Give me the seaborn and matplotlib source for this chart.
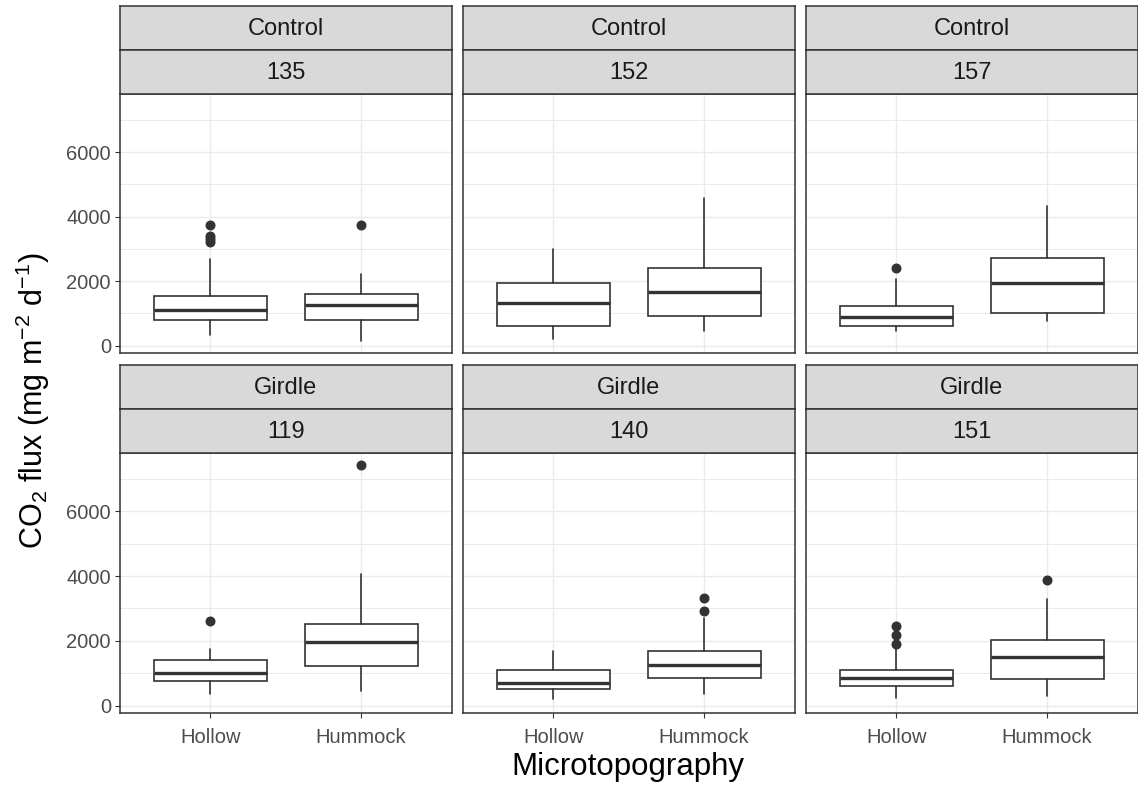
import matplotlib
matplotlib.use("Agg")
import matplotlib.pyplot as plt
from matplotlib.ticker import FixedLocator
import pandas as pd
import seaborn as sns

# Facet labels: treatment (upper strip) and plot number (lower strip)
treatments = ["Control", "Control", "Control", "Girdle", "Girdle", "Girdle"]
plot_ids = ["135", "152", "157", "119", "140", "151"]
microtopography = ["Hollow", "Hummock"]

# Box summaries of CO2 flux (mg m-2 d-1) per plot, Hollow
hollow_low = [342, 197, 445, 342, 197, 238]
hollow_q1 = [808, 611, 611, 767, 508, 611]
hollow_med = [1098, 1316, 901, 995, 684, 839]
hollow_q3 = [1544, 1948, 1233, 1419, 1109, 1109]
hollow_high = [2673, 2994, 2062, 1751, 1689, 1780]
hollow_out = [[3210, 3300, 3400, 3750], [], [2414], [2611], [], [1908, 2165, 2459]]

# Box summaries per plot, Hummock
hummock_low = [135, 445, 756, 445, 342, 280]
hummock_q1 = [808, 922, 1026, 1222, 860, 808]
hummock_med = [1264, 1668, 1937, 1968, 1243, 1502]
hummock_q3 = [1606, 2414, 2725, 2518, 1678, 2041]
hummock_high = [2227, 4590, 4320, 4051, 2714, 3284]
hummock_out = [[3750], [], [], [7439], [2911, 3336], [3895]]

y_ticks = [0, 2000, 4000, 6000]
y_minor = [1000, 3000, 5000, 7000]

rows = []
for i, (trt, pid) in enumerate(zip(treatments, plot_ids)):
    series = {
        "Hollow": (hollow_low, hollow_q1, hollow_med, hollow_q3, hollow_high, hollow_out),
        "Hummock": (hummock_low, hummock_q1, hummock_med, hummock_q3, hummock_high, hummock_out),
    }
    for m in microtopography:
        lo, q1, med, q3, hi, out = series[m]
        rows.append(dict(treatment=trt, plot=pid, panel=f"{trt} {pid}", micro=m,
                         low=lo[i], q1=q1[i], med=med[i], q3=q3[i], high=hi[i],
                         out=out[i]))
df = pd.DataFrame(rows)
panels = [f"{t} {p}" for t, p in zip(treatments, plot_ids)]

sns.set_theme(style="white")
plt.rcParams["font.family"] = ["Liberation Sans", "DejaVu Sans"]
plt.rcParams["mathtext.fontset"] = "custom"
plt.rcParams["mathtext.rm"] = "Liberation Sans"
plt.rcParams["mathtext.it"] = "Liberation Sans:italic"
plt.rcParams["mathtext.bf"] = "Liberation Sans:bold"

DARK = "#333333"
GRID = "#EBEBEB"
TICKTXT = "#4D4D4D"


def draw_boxes(data, **kws):
    ax = plt.gca()
    stats = []
    for _, r in data.iterrows():
        stats.append(dict(med=r["med"], q1=r["q1"], q3=r["q3"],
                          whislo=r["low"], whishi=r["high"],
                          fliers=list(r["out"]), label=r["micro"]))
    ax.bxp(stats, positions=list(range(len(stats))), widths=0.75,
           showcaps=False, patch_artist=True,
           boxprops=dict(facecolor="white", edgecolor=DARK, linewidth=1.2),
           medianprops=dict(color=DARK, linewidth=2.4),
           whiskerprops=dict(color=DARK, linewidth=1.2),
           flierprops=dict(marker="o", markerfacecolor=DARK,
                           markeredgecolor=DARK, markersize=6.2))


g = sns.FacetGrid(df, col="panel", col_order=panels, col_wrap=3,
                  sharex=True, sharey=True, height=3, aspect=1.2)
g.map_dataframe(draw_boxes)
g.set_titles("")
g.set_axis_labels("", "")

fig = g.figure
fig.set_size_inches(11.38, 7.88)
W, H = 1138.0, 788.0

all_vals = df[["low", "high"]].values.ravel().tolist() + \
    [v for lst in df["out"] for v in lst]
ymin, ymax = min(all_vals), max(all_vals)
pad = 0.05 * (ymax - ymin)

col_left = [120, 463, 806]
panel_w = 331.5
row_top = [94, 453]
row_bottom = [353, 713]
strip_h = 44

for k, ax in enumerate(g.axes.flat):
    r, c = divmod(k, 3)
    ax.set_position([col_left[c] / W, 1 - row_bottom[r] / H,
                     panel_w / W, (row_bottom[r] - row_top[r]) / H])
    ax.set_xlim(-0.6, 1.6)
    ax.set_ylim(ymin - pad, ymax + pad)
    ax.set_xticks([0, 1])
    ax.set_xticklabels(microtopography)
    ax.set_yticks(y_ticks)
    ax.set_yticklabels([str(v) for v in y_ticks])
    ax.yaxis.set_minor_locator(FixedLocator(y_minor))
    ax.set_axisbelow(True)
    ax.grid(True, which="major", axis="both", color=GRID, linewidth=1.0)
    ax.grid(True, which="minor", axis="y", color=GRID, linewidth=0.7)
    ax.set_facecolor("white")
    for sp in ax.spines.values():
        sp.set_visible(True)
        sp.set_color(DARK)
        sp.set_linewidth(1.1)
    ax.tick_params(axis="both", which="major", length=3.5, width=0.8,
                   color=DARK, labelcolor=TICKTXT, labelsize=14.5)
    ax.tick_params(axis="x", pad=7, bottom=(r == 1), labelbottom=(r == 1))
    ax.tick_params(axis="y", pad=3, left=(c == 0), labelleft=(c == 0))
    ax.tick_params(axis="y", which="minor", length=0)
    ax.set_xlabel("")
    ax.set_ylabel("")

    # two-level strip above each panel
    for level, text in enumerate([treatments[k], plot_ids[k]]):
        top = row_top[r] - strip_h * (2 - level)
        sax = fig.add_axes([col_left[c] / W, 1 - (top + strip_h) / H,
                            panel_w / W, strip_h / H])
        sax.set_facecolor("#D9D9D9")
        sax.set_xticks([])
        sax.set_yticks([])
        for sp in sax.spines.values():
            sp.set_visible(True)
            sp.set_color(DARK)
            sp.set_linewidth(1.1)
        sax.text(0.5, 0.47, text, ha="center", va="center", fontsize=17,
                 color="#1A1A1A", transform=sax.transAxes)

fig.text(628 / W, 1 - 767 / H, "Microtopography", ha="center", va="center",
         fontsize=22.5, color="black")
fig.text(33 / W, 1 - 401 / H, "CO$_2$ flux (mg m$^{-2}$ d$^{-1}$)",
         ha="center", va="center", rotation=90, fontsize=22, color="black")

fig.savefig("out.png", dpi=100, facecolor="white")
